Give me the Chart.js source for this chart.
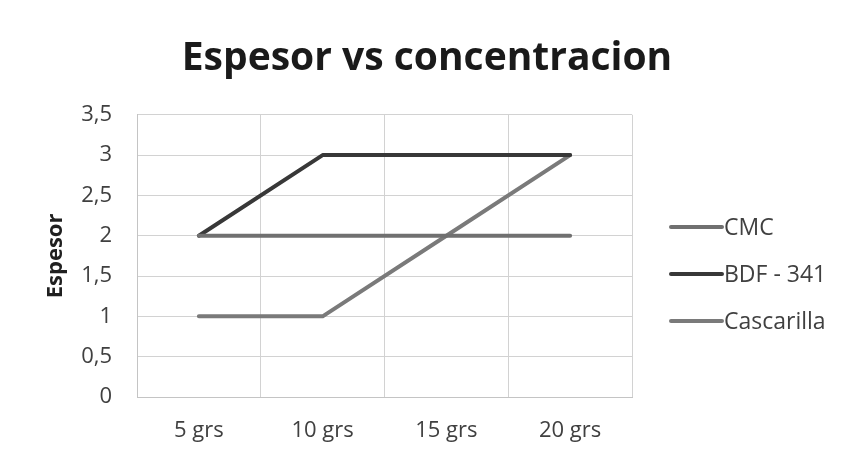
<!DOCTYPE html>
<html>
<head>
<meta charset="utf-8">
<script src="https://cdn.jsdelivr.net/npm/chart.js@4"></script>
<style>
  html, body { margin: 0; padding: 0; background: #ffffff; }
  #wrap { width: 854px; height: 463px; }
</style>
</head>
<body>
<div id="wrap"><canvas id="espesorChart" width="854" height="463"></canvas></div>
<script>
var categories = ['5 grs', '10 grs', '15 grs', '20 grs'];
var seriesNames = ['CMC', 'BDF - 341', 'Cascarilla'];
var cmcValues = [2, 2, 2, 2];
var bdfValues = [2, 3, 3, 3];
var cascarillaValues = [1, 1, 2, 3];
var seriesColors = ['#707070', '#383838', '#7a7a7a'];

var FONT = '"Open Sans", Lato, sans-serif';

// legend drawn at the right, line sample + label
var sideLegend = {
    id: 'sideLegend',
    afterDraw: function (chart) {
        var ctx = chart.ctx;
        var startY = 227;
        var step = 47;
        ctx.save();
        chart.data.datasets.forEach(function (ds, i) {
            var y = startY + i * step;
            ctx.strokeStyle = ds.borderColor;
            ctx.lineWidth = 4;
            ctx.lineCap = 'round';
            ctx.beginPath();
            ctx.moveTo(671, y);
            ctx.lineTo(722, y);
            ctx.stroke();
            ctx.fillStyle = '#404040';
            ctx.font = '23px ' + FONT;
            ctx.textBaseline = 'middle';
            ctx.textAlign = 'left';
            ctx.fillText(ds.label, 724, y + 1);
        });
        ctx.restore();
    }
};

function drawChart() {
    var ctx = document.getElementById('espesorChart').getContext('2d');
    var values = [cmcValues, bdfValues, cascarillaValues];

    var datasets = [];
    for (var i = 0; i < seriesNames.length; i++) {
        datasets.push({
            label: seriesNames[i],
            data: values[i],
            borderColor: seriesColors[i],
            backgroundColor: seriesColors[i],
            borderWidth: 4,
            pointRadius: 0,
            tension: 0,
            borderCapStyle: 'round',
            borderJoinStyle: 'round'
        });
    }

    new Chart(ctx, {
        type: 'line',
        data: { labels: categories, datasets: datasets },
        options: {
            responsive: false,
            animation: false,
            layout: { padding: 0 },
            plugins: {
                legend: { display: false },
                tooltip: { enabled: false },
                title: {
                    display: true,
                    text: 'Espesor vs concentracion',
                    color: '#1a1a1a',
                    font: { family: FONT, size: 39, weight: 'bold' },
                    padding: { top: 35, bottom: 33 }
                }
            },
            scales: {
                x: {
                    offset: true,
                    grid: { offset: true, color: '#d2d2d2', drawTicks: false },
                    border: { color: '#c4c4c4' },
                    ticks: {
                        color: '#404040',
                        padding: 21,
                        font: { family: FONT, size: 22 }
                    },
                    afterFit: function (scale) { scale.height = 66; }
                },
                y: {
                    min: 0,
                    max: 3.5,
                    grid: { color: '#d2d2d2', drawTicks: false },
                    border: { color: '#c4c4c4' },
                    ticks: {
                        stepSize: 0.5,
                        color: '#404040',
                        padding: 25,
                        font: { family: FONT, size: 22 },
                        callback: function (v) { return String(v).replace('.', ','); }
                    },
                    title: {
                        display: true,
                        text: 'Espesor',
                        color: '#202020',
                        font: { family: FONT, size: 22, weight: 'bold' },
                        padding: { top: 43, bottom: 0 }
                    },
                    afterFit: function (scale) { scale.width = 137; }
                },
                side: {
                    type: 'linear',
                    position: 'right',
                    grid: { display: false },
                    border: { display: false },
                    ticks: { display: false },
                    afterFit: function (scale) { scale.width = 222; }
                }
            }
        },
        plugins: [sideLegend]
    });
}

drawChart();
</script>
</body>
</html>
